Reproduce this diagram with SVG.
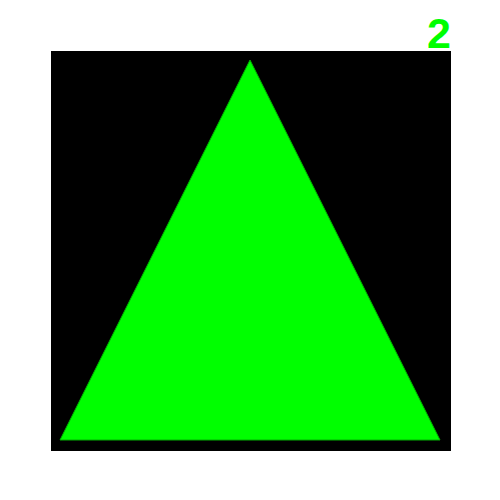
<svg xmlns="http://www.w3.org/2000/svg" width="500" height="500" viewBox="0 0 500 500">
<style>
.bg{fill:#000000}
.tri{fill:#00ff00;stroke:#00b000;stroke-width:1}
.lbl{font-family:"Liberation Sans",Arial,sans-serif;font-weight:bold;font-size:43px;fill:#00ff00}
</style>
<rect width="500" height="500" fill="#ffffff"/>
<g id="board"><rect class="bg" x="51" y="51" width="400" height="400"/></g>
<g id="triangle"><polygon class="tri" points="250,60 440,440 60,440"/></g>
<g id="label"><text class="lbl" x="451" y="48" text-anchor="end">2</text></g>
<g id="connectors"></g>
</svg>
